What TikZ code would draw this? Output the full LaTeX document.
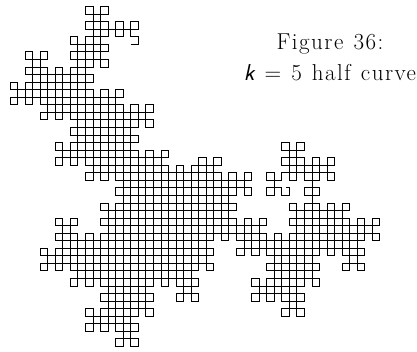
\documentclass[tikz,border=0pt]{standalone}
\usepackage{fontspec}
\setmainfont{Latin Modern Roman}[LetterSpace=6.5,WordSpace=1.2]
\newcount\rfn \newcount\rfq \newcount\rfd \newcount\rfx \newcount\rfy \newcount\rfdx \newcount\rfdy \newcount\rft
\newdimen\rfpx \newdimen\rfpy
\newcommand\rfturn{%
  \rfq=\rfn
  \loop \rft=\rfq \divide\rft by 5 \multiply\rft by 5 \ifnum\rft=\rfq \divide\rfq by 5 \repeat
  \rfd=\rfq \divide\rfq by 5 \multiply\rfq by 5 \advance\rfd by -\rfq
  \rft=\rfdx
  \ifnum\rfd<3 \rfdx=-\rfdy \rfdy=\rft \else \rfdx=\rfdy \rfdy=-\rft \fi}
\newcommand\rfu{7.55pt}
\newcommand\rfxo{130.8pt}
\newcommand\rfyo{306.55pt}
\newcommand\rfplace{%
  \rfpx=\rfu \multiply\rfpx by \rfx \advance\rfpx by \rfxo
  \rfpy=\rfu \multiply\rfpy by \rfy \advance\rfpy by \rfyo}
\tikzset{captiontext/.style={anchor=center,align=center,inner sep=0pt,font=\fontsize{23}{31}\selectfont}}
\begin{document}
\begin{tikzpicture}[x=1pt,y=1pt]
\useasboundingbox (0,0) rectangle (417,351);
\begin{scope}[line width=1pt,black,line join=miter]
\rfx=0 \rfy=0 \rfdx=1 \rfdy=0
\rfplace
\pgfpathmoveto{\pgfqpoint{\rfpx}{\rfpy}}
\rfn=0
\loop\ifnum\rfn<1562
  \advance\rfn by 1
  \advance\rfx by \rfdx \advance\rfy by \rfdy
  \rfplace
  \pgfpathlineto{\pgfqpoint{\rfpx}{\rfpy}}
  {\rfturn\global\rfdx=\rfdx\global\rfdy=\rfdy}
\repeat
\rfplace
\advance\rfpx by \dimexpr\rfdx\dimexpr\rfu/2\relax\relax
\advance\rfpy by \dimexpr\rfdy\dimexpr\rfu/2\relax\relax
\pgfpathlineto{\pgfqpoint{\rfpx}{\rfpy}}
\pgfusepath{stroke}
\end{scope}
\node[captiontext] (caption) at (330,294) {Figure 36:\\{\sffamily\itshape k} = 5 half curve};
\end{tikzpicture}
\end{document}
